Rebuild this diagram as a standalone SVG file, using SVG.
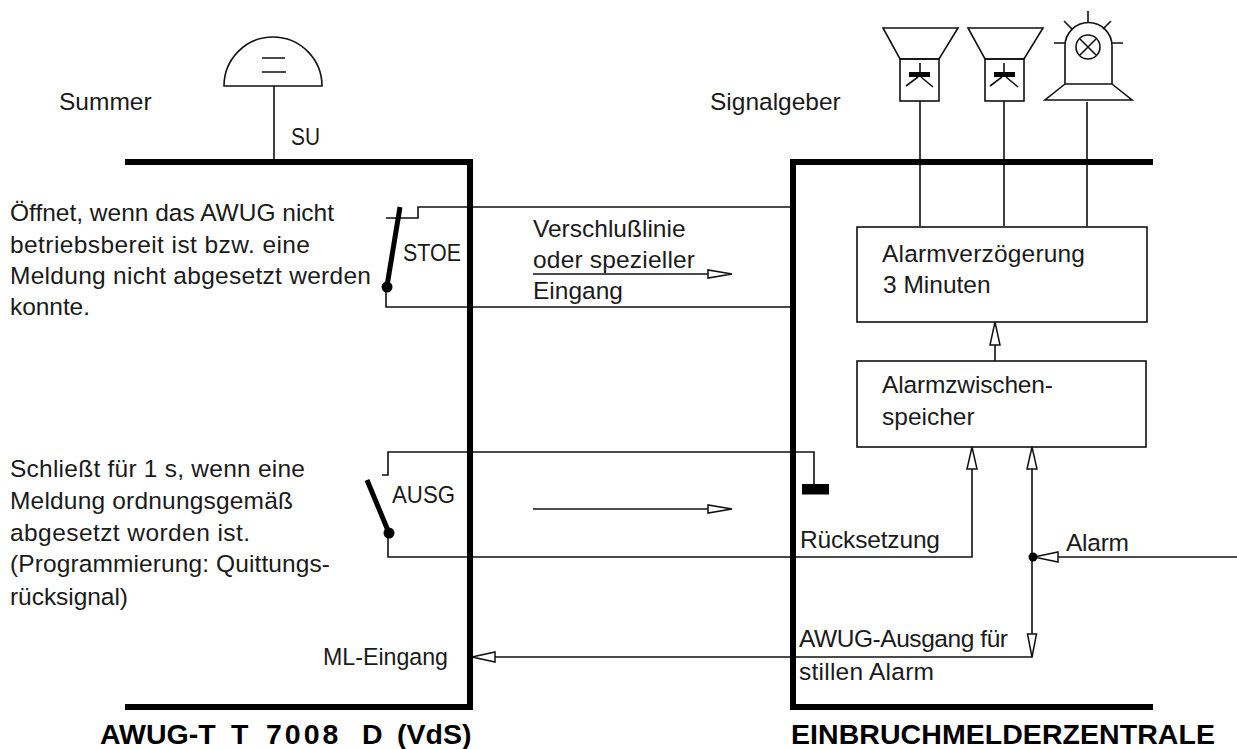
<svg xmlns="http://www.w3.org/2000/svg" width="1237" height="749" viewBox="0 0 1237 749">
<style>
text{font-family:"Liberation Sans",Arial,sans-serif;font-size:24.500px;fill:#1a1a1a}
.b{font-weight:bold;font-size:28.500px;fill:#000;white-space:pre}
.l{fill:none;stroke:#111;stroke-width:1.6}
.t{fill:none;stroke:#000;stroke-width:6}
.h{fill:#fff;stroke:#111;stroke-width:1.5}
</style>
<rect width="1237" height="749" fill="#fff"/>
<g id="connectors">
<path class="l" d="M274 86V162M920 101V226M1004 101V226M1087 102V226"/>
<path class="l" d="M386 218H418V207H792"/>
<path class="l" d="M386 288V307H792"/>
<path class="l" d="M533 274H712"/>
<path class="l" d="M382 475H388V452H814V484"/>
<path class="l" d="M388 533V557H972V447"/>
<path class="l" d="M533 509H712"/>
<path class="l" d="M995 322V361"/>
<path class="l" d="M1032 447V657H495"/>
<path class="l" d="M1237 557H1058"/>
<polygon class="h" points="732,274 708,270 708,278"/>
<polygon class="h" points="732,509 708,505 708,513"/>
<polygon class="h" points="995,322 990,345 1000,345"/>
<polygon class="h" points="972,447 967,469 977,469"/>
<polygon class="h" points="1032,447 1027,469 1037,469"/>
<polygon class="h" points="1034,557 1058,552 1058,562"/>
<polygon class="h" points="1032,657 1027.500,634 1036.500,634"/>
<polygon class="h" points="472,657 495,652 495,662"/>
<circle cx="1033" cy="557" r="4.500" fill="#000"/>
</g>
<g id="awug">
<path class="t" d="M125 162H470V707H125"/>
<text class="b" y="744" xml:space="preserve"><tspan x="100">AWUG-T</tspan> <tspan x="231">T</tspan>  <tspan x="266" letter-spacing="3">7008</tspan>  <tspan x="362">D</tspan> <tspan x="397">(VdS)</tspan></text>
</g>
<g id="zentrale">
<path class="t" d="M1153 162H793V707H1153"/>
<text class="b" x="791" y="744" textLength="424">EINBRUCHMELDERZENTRALE</text>
</g>
<g id="summer">
<path class="l" d="M224 86A49 49 0 0 1 322 86Z"/>
<path class="l" d="M262 58H285M262 72H286"/>
<text x="59" y="110">Summer</text>
<text x="291" y="145" textLength="29" lengthAdjust="spacingAndGlyphs">SU</text>
</g>
<g id="signalgeber">
<text x="710" y="110">Signalgeber</text>
<g id="horn1">
<path class="l" d="M883 28H958L939 59H900Z"/>
<rect class="l" x="900" y="59" width="39" height="42"/>
<rect x="909" y="72" width="21" height="5" fill="#000"/>
<path class="l" d="M920 63V72M918 77L906 86M921 77L933 87"/>
</g>
<g id="horn2">
<path class="l" d="M968 28H1043L1024 59H985Z"/>
<rect class="l" x="985" y="59" width="39" height="42"/>
<rect x="994" y="72" width="21" height="5" fill="#000"/>
<path class="l" d="M1004 63V72M1002 77L990 86M1006 77L1018 87"/>
</g>
<g id="lamp">
<path class="l" d="M1065 84V46A23.500 23.500 0 0 1 1112 46V84ZM1065 84L1045 100H1132L1112 84"/>
<circle class="l" cx="1088" cy="47" r="12"/>
<path class="l" d="M1080 39L1096 55M1096 39L1080 55M1088 11V22M1064 21L1072 29M1111 21L1103 29M1054 43H1065M1112 43H1123"/>
</g>
</g>
<g id="stoe">
<path d="M400 207L387 286" fill="none" stroke="#000" stroke-width="5"/>
<circle cx="387" cy="287" r="5.500" fill="#000"/>
<text x="403" y="261" textLength="58" lengthAdjust="spacingAndGlyphs">STOE</text>
</g>
<g id="ausg">
<path d="M367 480L389 533" fill="none" stroke="#000" stroke-width="5"/>
<circle cx="389" cy="533" r="5.500" fill="#000"/>
<text x="392" y="503" textLength="63" lengthAdjust="spacingAndGlyphs">AUSG</text>
</g>
<rect id="terminal" x="802" y="484" width="27" height="10.500" fill="#000"/>
<g id="alarmverz">
<rect class="l" x="857" y="227" width="290" height="95"/>
<text x="882" y="262" textLength="203">Alarmverzögerung</text>
<text x="883" y="293">3 Minuten</text>
</g>
<g id="alarmzw">
<rect class="l" x="857" y="361" width="289" height="86"/>
<text x="882" y="393" textLength="171">Alarmzwischen-</text>
<text x="882" y="425">speicher</text>
</g>
<g id="labels">
<text x="10" y="221" textLength="324">Öffnet, wenn das AWUG nicht</text>
<text x="10" y="253" textLength="300">betriebsbereit ist bzw. eine</text>
<text x="10" y="284" textLength="361">Meldung nicht abgesetzt werden</text>
<text x="10" y="315" textLength="80">konnte.</text>
<text x="533" y="237">Verschlußlinie</text>
<text x="533" y="268" textLength="162">oder spezieller</text>
<text x="533" y="299">Eingang</text>
<text x="10" y="477" textLength="295">Schließt für 1 s, wenn eine</text>
<text x="10" y="509" textLength="283">Meldung ordnungsgemäß</text>
<text x="10" y="541" textLength="240">abgesetzt worden ist.</text>
<text x="10" y="572" textLength="320">(Programmierung: Quittungs-</text>
<text x="10" y="605" textLength="118">rücksignal)</text>
<text x="800" y="548" textLength="140">Rücksetzung</text>
<text x="1066" y="551" textLength="63">Alarm</text>
<text x="799" y="647" textLength="209">AWUG-Ausgang für</text>
<text x="799" y="680" textLength="135">stillen Alarm</text>
<text x="323" y="665" textLength="125" lengthAdjust="spacingAndGlyphs">ML-Eingang</text>
</g>
</svg>
